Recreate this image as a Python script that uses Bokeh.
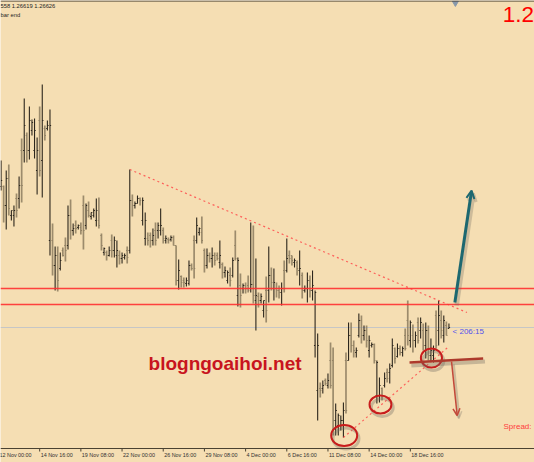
from bokeh.plotting import figure
from bokeh.models import Range1d, Span, Label, Arrow, OpenHead, ColumnDataSource
from bokeh.embed import file_html
from bokeh.resources import INLINE

# ---------------- data (GBPUSD H4, prices) ----------------
highs = [
    1.2830, 1.2805, 1.2820, 1.2826, 1.2780, 1.2785, 1.2797, 1.2814, 1.2852, 1.2892,
    1.2858, 1.2884, 1.2871, 1.2872, 1.2853, 1.2884, 1.2906, 1.2865, 1.2870, 1.2881,
    1.2767, 1.2744, 1.2744, 1.2738, 1.2743, 1.2753, 1.2785, 1.2791, 1.2767, 1.2770,
    1.2766, 1.2768, 1.2795, 1.2787, 1.2789, 1.2778, 1.2782, 1.2792, 1.2793, 1.2757,
    1.2743, 1.2740, 1.2744, 1.2756, 1.2754, 1.2750, 1.2740, 1.2738, 1.2737, 1.2744,
    1.2821, 1.2796, 1.2789, 1.2795, 1.2793, 1.2793, 1.2778, 1.2758, 1.2758, 1.2762,
    1.2768, 1.2768, 1.2782, 1.2763, 1.2755, 1.2753, 1.2755, 1.2755, 1.2745, 1.2731,
    1.2715, 1.2713, 1.2713, 1.2730, 1.2727, 1.2755, 1.2773, 1.2763, 1.2774, 1.2742,
    1.2742, 1.2738, 1.2743, 1.2738, 1.2738, 1.2750, 1.2728, 1.2724, 1.2720, 1.2723,
    1.2733, 1.2760, 1.2733, 1.2717, 1.2707, 1.2708, 1.2715, 1.2768, 1.2765, 1.2732,
    1.2698, 1.2697, 1.2690, 1.2714, 1.2744, 1.2723, 1.2722, 1.2708, 1.2705, 1.2708,
    1.2730, 1.2752, 1.2740, 1.2735, 1.2732, 1.2730, 1.2740, 1.2718, 1.2705, 1.2718,
    1.2715, 1.2720, 1.2700, 1.2657, 1.2608, 1.2610, 1.2612, 1.2617, 1.2648, 1.2643,
    1.2587, 1.2577, 1.2575, 1.2588, 1.2638, 1.2668, 1.2668, 1.2650, 1.2643, 1.2677,
    1.2675, 1.2665, 1.2665, 1.2655, 1.2648, 1.2647, 1.2630, 1.2613, 1.2603, 1.2618,
    1.2622, 1.2627, 1.2652, 1.2643, 1.2647, 1.2645, 1.2644, 1.2662, 1.2690, 1.2670,
    1.2666, 1.2659, 1.2673, 1.2673, 1.2667, 1.2668, 1.2665, 1.2652, 1.2645, 1.2680,
    1.2690, 1.2680, 1.2675, 1.2669, 1.2667,
]
lows = [
    1.2800, 1.2768, 1.2761, 1.2775, 1.2770, 1.2764, 1.2773, 1.2782, 1.2788, 1.2828,
    1.2828, 1.2831, 1.2855, 1.2832, 1.2796, 1.2814, 1.2793, 1.2850, 1.2860, 1.2735,
    1.2715, 1.2700, 1.2699, 1.2720, 1.2734, 1.2729, 1.2741, 1.2751, 1.2755, 1.2757,
    1.2761, 1.2756, 1.2741, 1.2761, 1.2773, 1.2771, 1.2773, 1.2764, 1.2762, 1.2740,
    1.2735, 1.2730, 1.2734, 1.2733, 1.2733, 1.2723, 1.2726, 1.2727, 1.2731, 1.2727,
    1.2737, 1.2774, 1.2782, 1.2787, 1.2785, 1.2765, 1.2745, 1.2745, 1.2743, 1.2745,
    1.2745, 1.2752, 1.2755, 1.2747, 1.2747, 1.2747, 1.2749, 1.2745, 1.2705, 1.2701,
    1.2703, 1.2703, 1.2704, 1.2705, 1.2720, 1.2712, 1.2747, 1.2755, 1.2747, 1.2718,
    1.2722, 1.2728, 1.2723, 1.2725, 1.2730, 1.2722, 1.2712, 1.2713, 1.2707, 1.2704,
    1.2713, 1.2730, 1.2684, 1.2683, 1.2697, 1.2697, 1.2698, 1.2698, 1.2687, 1.2660,
    1.2683, 1.2687, 1.2673, 1.2668, 1.2688, 1.2700, 1.2690, 1.2693, 1.2692, 1.2685,
    1.2698, 1.2718, 1.2727, 1.2725, 1.2723, 1.2715, 1.2705, 1.2692, 1.2698, 1.2688,
    1.2693, 1.2690, 1.2633, 1.2570, 1.2593, 1.2597, 1.2605, 1.2602, 1.2602, 1.2555,
    1.2555, 1.2555, 1.2560, 1.2553, 1.2577, 1.2630, 1.2638, 1.2633, 1.2633, 1.2653,
    1.2647, 1.2650, 1.2643, 1.2633, 1.2643, 1.2627, 1.2587, 1.2588, 1.2590, 1.2603,
    1.2608, 1.2607, 1.2623, 1.2627, 1.2633, 1.2635, 1.2634, 1.2640, 1.2645, 1.2643,
    1.2638, 1.2643, 1.2647, 1.2652, 1.2640, 1.2632, 1.2630, 1.2629, 1.2628, 1.2642,
    1.2645, 1.2652, 1.2648, 1.2655, 1.2662,
]
opens = [
    1.2804, 1.2804, 1.2785, 1.2812, 1.2775, 1.2775, 1.2792, 1.2792, 1.2840, 1.2840,
    1.2855, 1.2840, 1.2860, 1.2840, 1.2820, 1.2870, 1.2830, 1.2862, 1.2862, 1.2750,
    1.2750, 1.2725, 1.2735, 1.2722, 1.2740, 1.2745, 1.2745, 1.2775, 1.2760, 1.2765,
    1.2763, 1.2763, 1.2785, 1.2765, 1.2780, 1.2774, 1.2775, 1.2770, 1.2770, 1.2755,
    1.2738, 1.2738, 1.2735, 1.2750, 1.2740, 1.2735, 1.2735, 1.2732, 1.2733, 1.2740,
    1.2740, 1.2790, 1.2785, 1.2787, 1.2792, 1.2770, 1.2752, 1.2752, 1.2755, 1.2750,
    1.2760, 1.2760, 1.2760, 1.2760, 1.2750, 1.2751, 1.2751, 1.2753, 1.2745, 1.2710,
    1.2714, 1.2710, 1.2707, 1.2707, 1.2725, 1.2750, 1.2750, 1.2758, 1.2758, 1.2740,
    1.2725, 1.2735, 1.2732, 1.2735, 1.2735, 1.2728, 1.2726, 1.2718, 1.2710, 1.2715,
    1.2715, 1.2745, 1.2695, 1.2705, 1.2702, 1.2705, 1.2705, 1.2702, 1.2706, 1.2690,
    1.2694, 1.2690, 1.2680, 1.2700, 1.2700, 1.2715, 1.2702, 1.2702, 1.2700, 1.2698,
    1.2720, 1.2720, 1.2735, 1.2735, 1.2728, 1.2728, 1.2720, 1.2715, 1.2700, 1.2702,
    1.2710, 1.2700, 1.2645, 1.2600, 1.2602, 1.2602, 1.2610, 1.2605, 1.2630, 1.2630,
    1.2570, 1.2565, 1.2565, 1.2570, 1.2630, 1.2630, 1.2655, 1.2645, 1.2638, 1.2655,
    1.2670, 1.2655, 1.2660, 1.2640, 1.2645, 1.2646, 1.2595, 1.2595, 1.2602, 1.2605,
    1.2618, 1.2618, 1.2625, 1.2642, 1.2634, 1.2642, 1.2638, 1.2655, 1.2670, 1.2650,
    1.2655, 1.2650, 1.2668, 1.2660, 1.2660, 1.2645, 1.2660, 1.2635, 1.2635, 1.2675,
    1.2660, 1.2670, 1.2655, 1.2665, 1.2662,
]
closes = [
    1.2810, 1.2785, 1.2812, 1.2782, 1.2780, 1.2780, 1.2780, 1.2805, 1.2805, 1.2865,
    1.2840, 1.2870, 1.2868, 1.2860, 1.2840, 1.2820, 1.2870, 1.2855, 1.2865, 1.2865,
    1.2725, 1.2735, 1.2710, 1.2730, 1.2735, 1.2740, 1.2775, 1.2760, 1.2762, 1.2762,
    1.2765, 1.2760, 1.2760, 1.2785, 1.2775, 1.2778, 1.2780, 1.2780, 1.2765, 1.2745,
    1.2742, 1.2735, 1.2740, 1.2740, 1.2750, 1.2740, 1.2732, 1.2735, 1.2735, 1.2733,
    1.2790, 1.2785, 1.2787, 1.2792, 1.2790, 1.2790, 1.2770, 1.2750, 1.2750, 1.2755,
    1.2750, 1.2765, 1.2765, 1.2752, 1.2752, 1.2750, 1.2753, 1.2745, 1.2710, 1.2720,
    1.2708, 1.2708, 1.2710, 1.2725, 1.2722, 1.2722, 1.2765, 1.2762, 1.2750, 1.2725,
    1.2735, 1.2732, 1.2735, 1.2730, 1.2732, 1.2735, 1.2718, 1.2720, 1.2718, 1.2710,
    1.2730, 1.2732, 1.2730, 1.2695, 1.2705, 1.2702, 1.2700, 1.2706, 1.2695, 1.2695,
    1.2690, 1.2694, 1.2690, 1.2680, 1.2715, 1.2708, 1.2708, 1.2700, 1.2698, 1.2702,
    1.2702, 1.2732, 1.2732, 1.2730, 1.2730, 1.2722, 1.2722, 1.2700, 1.2702, 1.2710,
    1.2700, 1.2705, 1.2698, 1.2645, 1.2600, 1.2605, 1.2607, 1.2610, 1.2605, 1.2570,
    1.2580, 1.2575, 1.2570, 1.2580, 1.2580, 1.2655, 1.2645, 1.2640, 1.2640, 1.2670,
    1.2655, 1.2660, 1.2650, 1.2650, 1.2646, 1.2630, 1.2628, 1.2605, 1.2595, 1.2612,
    1.2612, 1.2622, 1.2645, 1.2632, 1.2642, 1.2638, 1.2642, 1.2642, 1.2655, 1.2668,
    1.2650, 1.2655, 1.2650, 1.2668, 1.2645, 1.2660, 1.2635, 1.2640, 1.2640, 1.2645,
    1.2675, 1.2660, 1.2670, 1.2655, 1.2663,
]

tick_bars = [0, 16, 32, 48, 64, 80, 96, 112, 128, 144, 160]
tick_labels = ["12 Nov 00:00", "14 Nov 16:00", "19 Nov 08:00", "22 Nov 00:00",
               "26 Nov 16:00", "29 Nov 08:00", "4 Dec 00:00", "6 Dec 16:00",
               "11 Dec 08:00", "14 Dec 00:00", "18 Dec 16:00"]
resistance_levels = [1.2702, 1.2686]
header_text = "558 1.26619 1.26626"
timer_title = "bar end"
timer_text = "< 206:15"
price_corner = "1.2"
spread_text = "Spread:"
watermark = "blogngoaihoi.net"

# hand-drawn analysis objects (bar index, price)
down_trend_x = [51, 182]
down_trend_y = [1.2821, 1.2678]
up_trend_x = [134, 174.5]
up_trend_y = [1.2553, 1.2643]
circle_x = [134.3, 148.4, 168.2]
circle_y = [1.2555, 1.2586, 1.26325]
neckline_x = [159.7, 188.3]
neckline_y = [1.2628, 1.2632]

# ---------------- figure ----------------
X0, X1 = 0.777, 208.24
Y0, Y1 = 1.2528, 1.2990      # full canvas; the time scale lives in the bottom strip
AXIS_Y = 1.2542
p = figure(width=534, height=462, x_range=Range1d(X0, X1), y_range=Range1d(Y0, Y1),
           output_backend="svg", toolbar_location=None,
           x_axis_location=None, y_axis_location=None,
           background_fill_color="#f5deb3", border_fill_color="#f5deb3",
           min_border_left=0, min_border_right=0, min_border_top=0, min_border_bottom=0)
p.grid.visible = False
p.outline_line_color = None

# time scale: line, ticks, labels
p.add_layout(Span(location=AXIS_Y, dimension="width", line_color="#4a4232", line_width=1))
p.segment(x0=tick_bars, y0=[AXIS_Y] * len(tick_bars), x1=tick_bars,
          y1=[AXIS_Y - 0.0003] * len(tick_bars), line_color="#4a4232", line_width=1)
for b, t in zip(tick_bars, tick_labels):
    p.add_layout(Label(x=b, y=AXIS_Y, text=t, x_offset=1, y_offset=-3.5, text_baseline="top",
                       text_align="left", text_font="Liberation Sans",
                       text_font_size="5.4px", text_color="#303030"))

# bid line
p.add_layout(Span(location=closes[-1], dimension="width", line_color="#c6c6c6",
                  line_width=1, level="underlay"))

# bars
idx = list(range(1, len(opens) + 1))


def make_source(up):
    keep = [i for i in range(len(opens)) if (closes[i] >= opens[i]) == up]
    return ColumnDataSource(dict(
        x=[idx[i] for i in keep],
        xl=[idx[i] - 0.45 for i in keep],
        xr=[idx[i] + 0.45 for i in keep],
        high=[highs[i] for i in keep],
        low=[lows[i] for i in keep],
        open=[opens[i] for i in keep],
        close=[closes[i] for i in keep],
    ))


for up, color, lw, alpha in [(False, "#8c7c5f", 1.7, 0.85), (True, "#2c261c", 1.1, 1.0)]:
    src = make_source(up)
    p.segment(x0="x", y0="low", x1="x", y1="high", source=src, line_color=color,
              line_width=lw, line_alpha=alpha)
    p.segment(x0="xl", y0="open", x1="x", y1="open", source=src, line_color=color,
              line_width=1, line_alpha=alpha)
    p.segment(x0="x", y0="close", x1="xr", y1="close", source=src, line_color=color,
              line_width=1, line_alpha=alpha)

# resistance lines
for lvl in resistance_levels:
    p.add_layout(Span(location=lvl, dimension="width", line_color="#ff3030",
                      line_width=1.6, line_alpha=0.9))

# top border
p.add_layout(Span(location=Y1 - 0.00005, dimension="width", line_color="#3a3327", line_width=1))

# trend lines
p.line(down_trend_x, down_trend_y, line_color="#ff4a4a", line_width=1.2,
       line_dash="2 3", line_alpha=0.85)
p.line(up_trend_x, up_trend_y, line_color="#ff4a4a", line_width=1.2,
       line_dash="2 3", line_alpha=0.85)

# circles (with soft shadow)
cw = [10.1, 8.5, 8.2]
ch = [0.0021, 0.0018, 0.0019]
p.ellipse(x=[c + 0.7 for c in circle_x], y=[c - 0.0003 for c in circle_y], width=cw,
          height=ch, fill_alpha=0, line_color="#6f6a60", line_alpha=0.35, line_width=3)
p.ellipse(x=circle_x, y=circle_y, width=cw, height=ch, fill_alpha=0,
          line_color="#c81c1c", line_width=2)

# neckline with shadow
p.line([x + 0.7 for x in neckline_x], [y - 0.0003 for y in neckline_y],
       line_color="#6f6a60", line_alpha=0.35, line_width=4)
p.line(neckline_x, neckline_y, line_color="#ad3a2c", line_width=2.6)

# arrows with shadows
for (xs, ys, xe, ye, col, w, hs) in [
        (176.0, 1.2629, 178.2, 1.2575, "#c4483a", 1.5, 7),
        (177.3, 1.2688, 183.8, 1.2800, "#1d6870", 3, 8)]:
    p.add_layout(Arrow(x_start=xs + 0.7, y_start=ys - 0.0003, x_end=xe + 0.7, y_end=ye - 0.0003,
                       line_color="#6f6a60", line_alpha=0.3, line_width=w + 1.5,
                       end=OpenHead(size=hs, line_color="#6f6a60", line_alpha=0.3,
                                    line_width=w)))
    p.add_layout(Arrow(x_start=xs, y_start=ys, x_end=xe, y_end=ye, line_color=col,
                       line_width=w, end=OpenHead(size=hs, line_color=col,
                                                  line_width=min(w, 2))))

# chart shift marker
p.scatter(x=[177.5], y=[Y1 - 0.00025], marker="inverted_triangle", size=6,
          fill_color="#8898aa", line_color="#8898aa")

# texts
p.add_layout(Label(x=X0, y=Y1 - 0.0002, text=header_text, text_baseline="top",
                   text_font="Liberation Sans", text_font_size="5.8px", text_color="#1e1e1e"))
p.add_layout(Label(x=X0, y=Y1 - 0.0011, text=timer_title, text_baseline="top",
                   text_font="Liberation Sans", text_font_size="5.8px", text_color="#1e1e1e"))
p.add_layout(Label(x=195.9, y=Y1 - 0.0006, text=price_corner, text_baseline="top",
                   text_font="Liberation Sans", text_font_size="22.5px", text_color="#ff0000"))
p.add_layout(Label(x=176.4, y=closes[-1] - 0.00035, text=timer_text, text_baseline="middle",
                   text_font="Liberation Sans", text_font_size="8px", text_color="#5252ee"))
p.add_layout(Label(x=196.2, y=1.2564, text=spread_text, text_baseline="middle",
                   text_font="Liberation Sans", text_font_size="8px", text_color="#ff3c3c"))
p.add_layout(Label(x=58.3, y=1.2627, text=watermark, text_baseline="alphabetic",
                   text_font="Liberation Sans", text_font_style="bold",
                   text_font_size="19px", text_color="#c8141e"))

open("out.html", "w").write(file_html(p, INLINE))
